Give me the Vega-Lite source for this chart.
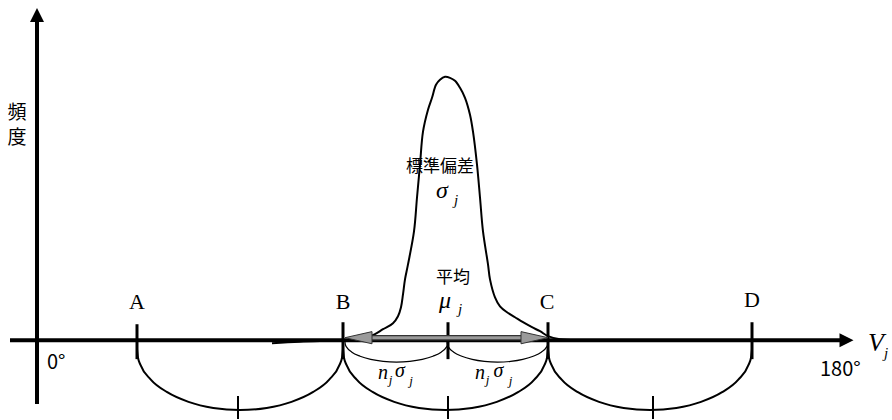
{
  "$schema": "https://vega.github.io/schema/vega-lite/v6.json",
  "width": 892,
  "height": 420,
  "padding": 0,
  "autosize": {"type": "fit", "contains": "padding"},
  "background": "white",
  "config": {"view": {"stroke": null}},
  "datasets": {
    "curves": [
      {"kind": "big", "id": "AB", "x": 137, "y": 70}, {"kind": "big", "id": "AB", "x": 137.9, "y": 62}, {"kind": "big", "id": "AB", "x": 140.5, "y": 54.2}, {"kind": "big", "id": "AB", "x": 150.8, "y": 39.5}, {"kind": "big", "id": "AB", "x": 167.2, "y": 26.9}, {"kind": "big", "id": "AB", "x": 188.5, "y": 17.2}, {"kind": "big", "id": "AB", "x": 213.3, "y": 11.1}, {"kind": "big", "id": "AB", "x": 240, "y": 9}, {"kind": "big", "id": "AB", "x": 266.7, "y": 11.1}, {"kind": "big", "id": "AB", "x": 291.5, "y": 17.2}, {"kind": "big", "id": "AB", "x": 312.8, "y": 26.9}, {"kind": "big", "id": "AB", "x": 329.2, "y": 39.5}, {"kind": "big", "id": "AB", "x": 339.5, "y": 54.2}, {"kind": "big", "id": "AB", "x": 342.1, "y": 62}, {"kind": "big", "id": "AB", "x": 343, "y": 70},
      {"kind": "big", "id": "BC", "x": 343, "y": 70}, {"kind": "big", "id": "BC", "x": 343.9, "y": 62}, {"kind": "big", "id": "BC", "x": 346.5, "y": 54.2}, {"kind": "big", "id": "BC", "x": 356.7, "y": 39.5}, {"kind": "big", "id": "BC", "x": 373, "y": 26.9}, {"kind": "big", "id": "BC", "x": 394.2, "y": 17.2}, {"kind": "big", "id": "BC", "x": 419, "y": 11.1}, {"kind": "big", "id": "BC", "x": 445.5, "y": 9}, {"kind": "big", "id": "BC", "x": 472, "y": 11.1}, {"kind": "big", "id": "BC", "x": 496.8, "y": 17.2}, {"kind": "big", "id": "BC", "x": 518, "y": 26.9}, {"kind": "big", "id": "BC", "x": 534.3, "y": 39.5}, {"kind": "big", "id": "BC", "x": 544.5, "y": 54.2}, {"kind": "big", "id": "BC", "x": 547.1, "y": 62}, {"kind": "big", "id": "BC", "x": 548, "y": 70},
      {"kind": "big", "id": "CD", "x": 548, "y": 70}, {"kind": "big", "id": "CD", "x": 548.9, "y": 62}, {"kind": "big", "id": "CD", "x": 551.5, "y": 54.2}, {"kind": "big", "id": "CD", "x": 561.7, "y": 39.5}, {"kind": "big", "id": "CD", "x": 577.9, "y": 26.9}, {"kind": "big", "id": "CD", "x": 599, "y": 17.2}, {"kind": "big", "id": "CD", "x": 623.6, "y": 11.1}, {"kind": "big", "id": "CD", "x": 650, "y": 9}, {"kind": "big", "id": "CD", "x": 676.4, "y": 11.1}, {"kind": "big", "id": "CD", "x": 701, "y": 17.2}, {"kind": "big", "id": "CD", "x": 722.1, "y": 26.9}, {"kind": "big", "id": "CD", "x": 738.3, "y": 39.5}, {"kind": "big", "id": "CD", "x": 748.5, "y": 54.2}, {"kind": "big", "id": "CD", "x": 751.1, "y": 62}, {"kind": "big", "id": "CD", "x": 752, "y": 70},
      {"kind": "small", "id": "Bm", "x": 345, "y": 77}, {"kind": "small", "id": "Bm", "x": 345.4, "y": 74.4}, {"kind": "small", "id": "Bm", "x": 346.8, "y": 71.8}, {"kind": "small", "id": "Bm", "x": 351.9, "y": 67}, {"kind": "small", "id": "Bm", "x": 360.1, "y": 62.9}, {"kind": "small", "id": "Bm", "x": 370.7, "y": 59.7}, {"kind": "small", "id": "Bm", "x": 383.2, "y": 57.7}, {"kind": "small", "id": "Bm", "x": 396.5, "y": 57}, {"kind": "small", "id": "Bm", "x": 409.8, "y": 57.7}, {"kind": "small", "id": "Bm", "x": 422.3, "y": 59.7}, {"kind": "small", "id": "Bm", "x": 432.9, "y": 62.9}, {"kind": "small", "id": "Bm", "x": 441.1, "y": 67}, {"kind": "small", "id": "Bm", "x": 446.2, "y": 71.8}, {"kind": "small", "id": "Bm", "x": 447.6, "y": 74.4}, {"kind": "small", "id": "Bm", "x": 448, "y": 77},
      {"kind": "small", "id": "mC", "x": 447, "y": 77}, {"kind": "small", "id": "mC", "x": 447.4, "y": 74.4}, {"kind": "small", "id": "mC", "x": 448.7, "y": 71.8}, {"kind": "small", "id": "mC", "x": 453.8, "y": 67}, {"kind": "small", "id": "mC", "x": 461.8, "y": 62.9}, {"kind": "small", "id": "mC", "x": 472.2, "y": 59.7}, {"kind": "small", "id": "mC", "x": 484.4, "y": 57.7}, {"kind": "small", "id": "mC", "x": 497.5, "y": 57}, {"kind": "small", "id": "mC", "x": 510.6, "y": 57.7}, {"kind": "small", "id": "mC", "x": 522.8, "y": 59.7}, {"kind": "small", "id": "mC", "x": 533.2, "y": 62.9}, {"kind": "small", "id": "mC", "x": 541.2, "y": 67}, {"kind": "small", "id": "mC", "x": 546.3, "y": 71.8}, {"kind": "small", "id": "mC", "x": 547.6, "y": 74.4}, {"kind": "small", "id": "mC", "x": 548, "y": 77}
    ],
    "bell": [
      {"i": 1, "x": 272, "y": 76}, {"i": 2, "x": 300, "y": 77.5}, {"i": 3, "x": 343, "y": 79}, {"i": 4, "x": 355, "y": 80}, {"i": 5, "x": 365, "y": 81}, {"i": 6, "x": 375, "y": 85}, {"i": 7, "x": 383, "y": 90}, {"i": 8, "x": 393, "y": 96}, {"i": 9, "x": 398, "y": 103}, {"i": 10, "x": 401, "y": 112}, {"i": 11, "x": 403, "y": 125}, {"i": 12, "x": 405, "y": 140}, {"i": 13, "x": 408, "y": 155}, {"i": 14, "x": 414, "y": 188}, {"i": 15, "x": 417, "y": 222}, {"i": 16, "x": 420, "y": 255}, {"i": 17, "x": 423, "y": 288}, {"i": 18, "x": 428, "y": 310}, {"i": 19, "x": 432, "y": 322}, {"i": 20, "x": 436, "y": 335}, {"i": 21, "x": 440, "y": 340}, {"i": 22, "x": 445, "y": 343}, {"i": 23, "x": 450, "y": 342}, {"i": 24, "x": 455, "y": 339}, {"i": 25, "x": 460, "y": 332}, {"i": 26, "x": 465, "y": 322}, {"i": 27, "x": 470, "y": 305}, {"i": 28, "x": 473, "y": 288}, {"i": 29, "x": 477, "y": 255}, {"i": 30, "x": 480, "y": 222}, {"i": 31, "x": 483, "y": 188}, {"i": 32, "x": 488, "y": 155}, {"i": 33, "x": 490, "y": 140}, {"i": 34, "x": 495, "y": 122}, {"i": 35, "x": 500, "y": 113}, {"i": 36, "x": 507, "y": 107}, {"i": 37, "x": 515, "y": 102}, {"i": 38, "x": 523, "y": 97}, {"i": 39, "x": 532, "y": 92}, {"i": 40, "x": 540, "y": 88}, {"i": 41, "x": 548, "y": 83}, {"i": 42, "x": 560, "y": 80}, {"i": 43, "x": 580, "y": 79}, {"i": 44, "x": 600, "y": 79}
    ],
    "segments": [
      {"kind": "axis", "x": 37, "y": 15, "x2": 37, "y2": 400},
      {"kind": "axis", "x": 10, "y": 79, "x2": 842, "y2": 79},
      {"kind": "tick", "x": 137, "y": 95, "x2": 137, "y2": 60},
      {"kind": "tick", "x": 343, "y": 97, "x2": 343, "y2": 60},
      {"kind": "tick", "x": 448, "y": 97, "x2": 448, "y2": 60},
      {"kind": "tick", "x": 548, "y": 97, "x2": 548, "y2": 60},
      {"kind": "tick", "x": 752, "y": 97, "x2": 752, "y2": 60},
      {"kind": "btick", "x": 238, "y": 23, "x2": 238, "y2": 0},
      {"kind": "btick", "x": 448, "y": 23, "x2": 448, "y2": 0},
      {"kind": "btick", "x": 653, "y": 23, "x2": 653, "y2": 0},
      {"kind": "shaft", "x": 372, "y": 81.5, "x2": 523, "y2": 81.5}
    ],
    "heads": [
      {"kind": "axisUp", "x": 37, "y": 405},
      {"kind": "axisRight", "x": 846.5, "y": 79},
      {"kind": "grayLeft", "x": 358.5, "y": 81.5},
      {"kind": "grayRight", "x": 534.5, "y": 81.5}
    ],
    "labels": [
      {"kind": "cjkAxis", "x": 17, "y": 300.3, "text": "頻"},
      {"kind": "cjkAxis", "x": 17, "y": 275.3, "text": "度"},
      {"kind": "cjk", "x": 440, "y": 247.5, "text": "標準偏差"},
      {"kind": "cjk", "x": 453, "y": 136, "text": "平均"},
      {"kind": "serif", "x": 137, "y": 110, "text": "A"},
      {"kind": "serif", "x": 343, "y": 110, "text": "B"},
      {"kind": "serif", "x": 547, "y": 110, "text": "C"},
      {"kind": "serif", "x": 752, "y": 112, "text": "D"},
      {"kind": "greek", "x": 442, "y": 222, "text": "σ"},
      {"kind": "greek", "x": 445, "y": 111, "text": "μ"},
      {"kind": "vlabel", "x": 876, "y": 68, "text": "V"},
      {"kind": "sub", "x": 456, "y": 215, "text": "j"},
      {"kind": "sub", "x": 460, "y": 105, "text": "j"},
      {"kind": "sub", "x": 886, "y": 61, "text": "j"},
      {"kind": "formula", "x": 383, "y": 40, "text": "n"},
      {"kind": "formula", "x": 400, "y": 42, "text": "σ"},
      {"kind": "formula", "x": 480, "y": 40, "text": "n"},
      {"kind": "formula", "x": 498.5, "y": 42, "text": "σ"},
      {"kind": "subSmall", "x": 390.5, "y": 35, "text": "j"},
      {"kind": "subSmall", "x": 411, "y": 34, "text": "j"},
      {"kind": "subSmall", "x": 487.5, "y": 35, "text": "j"},
      {"kind": "subSmall", "x": 510.5, "y": 34, "text": "j"},
      {"kind": "sans", "x": 47, "y": 50, "text": "0°"},
      {"kind": "sans", "x": 820, "y": 43, "text": "180°"}
    ]
  },
  "encoding": {
    "x": {"field": "x", "type": "quantitative", "scale": {"domain": [0, 892], "nice": false, "zero": false}, "axis": null},
    "y": {"field": "y", "type": "quantitative", "scale": {"domain": [0, 420], "nice": false, "zero": false}, "axis": null}
  },
  "layer": [
    {"data": {"name": "curves"}, "transform": [{"filter": "datum.kind == 'big'"}], "mark": {"type": "line", "color": "black", "strokeWidth": 2, "interpolate": "monotone"}, "encoding": {"detail": {"field": "id"}}},
    {"data": {"name": "curves"}, "transform": [{"filter": "datum.kind == 'small'"}], "mark": {"type": "line", "color": "black", "strokeWidth": 1.2, "interpolate": "monotone"}, "encoding": {"detail": {"field": "id"}}},
    {"data": {"name": "bell"}, "mark": {"type": "line", "color": "black", "strokeWidth": 2, "interpolate": "catmull-rom"}, "encoding": {"order": {"field": "i", "type": "quantitative"}}},
    {"data": {"name": "segments"}, "transform": [{"filter": "datum.kind == 'axis'"}], "mark": {"type": "rule", "color": "black", "strokeWidth": 4}, "encoding": {"x2": {"field": "x2"}, "y2": {"field": "y2"}}},
    {"data": {"name": "segments"}, "transform": [{"filter": "datum.kind == 'tick'"}], "mark": {"type": "rule", "color": "black", "strokeWidth": 3}, "encoding": {"x2": {"field": "x2"}, "y2": {"field": "y2"}}},
    {"data": {"name": "segments"}, "transform": [{"filter": "datum.kind == 'btick'"}], "mark": {"type": "rule", "color": "black", "strokeWidth": 2}, "encoding": {"x2": {"field": "x2"}, "y2": {"field": "y2"}}},
    {"data": {"name": "segments"}, "transform": [{"filter": "datum.kind == 'shaft'"}], "mark": {"type": "rule", "color": "#333333", "strokeWidth": 5.5}, "encoding": {"x2": {"field": "x2"}, "y2": {"field": "y2"}}},
    {"data": {"name": "segments"}, "transform": [{"filter": "datum.kind == 'shaft'"}], "mark": {"type": "rule", "color": "#9a9a9a", "strokeWidth": 3}, "encoding": {"x2": {"field": "x2"}, "y2": {"field": "y2"}}},
    {"data": {"name": "heads"}, "transform": [{"filter": "datum.kind == 'axisUp'"}], "mark": {"type": "point", "shape": "M0,-1L1,1L-1,1Z", "filled": true, "color": "black", "opacity": 1, "size": 196, "strokeWidth": 0}},
    {"data": {"name": "heads"}, "transform": [{"filter": "datum.kind == 'axisRight'"}], "mark": {"type": "point", "shape": "M1,0L-1,-1L-1,1Z", "filled": true, "color": "black", "opacity": 1, "size": 196, "strokeWidth": 0}},
    {"data": {"name": "heads"}, "transform": [{"filter": "datum.kind == 'grayLeft'"}], "mark": {"type": "point", "shape": "M-1,0L1,-0.45L1,0.45Z", "filled": true, "fill": "#9a9a9a", "stroke": "#333333", "strokeWidth": 1, "opacity": 1, "size": 729}},
    {"data": {"name": "heads"}, "transform": [{"filter": "datum.kind == 'grayRight'"}], "mark": {"type": "point", "shape": "M1,0L-1,-0.45L-1,0.45Z", "filled": true, "fill": "#9a9a9a", "stroke": "#333333", "strokeWidth": 1, "opacity": 1, "size": 729}},
    {"data": {"name": "labels"}, "transform": [{"filter": "datum.kind == 'cjkAxis'"}], "mark": {"type": "text", "font": "Noto Sans CJK JP", "fontSize": 19, "align": "center", "baseline": "alphabetic", "color": "black"}, "encoding": {"text": {"field": "text"}}},
    {"data": {"name": "labels"}, "transform": [{"filter": "datum.kind == 'cjk'"}], "mark": {"type": "text", "font": "Noto Sans CJK JP", "fontSize": 17, "align": "center", "baseline": "alphabetic", "color": "black"}, "encoding": {"text": {"field": "text"}}},
    {"data": {"name": "labels"}, "transform": [{"filter": "datum.kind == 'serif'"}], "mark": {"type": "text", "font": "Liberation Serif", "fontSize": 22, "align": "center", "baseline": "alphabetic", "color": "black"}, "encoding": {"text": {"field": "text"}}},
    {"data": {"name": "labels"}, "transform": [{"filter": "datum.kind == 'greek'"}], "mark": {"type": "text", "font": "Liberation Serif", "fontStyle": "italic", "fontSize": 24, "align": "center", "baseline": "alphabetic", "color": "black"}, "encoding": {"text": {"field": "text"}}},
    {"data": {"name": "labels"}, "transform": [{"filter": "datum.kind == 'vlabel'"}], "mark": {"type": "text", "font": "Liberation Serif", "fontStyle": "italic", "fontSize": 26, "align": "center", "baseline": "alphabetic", "color": "black"}, "encoding": {"text": {"field": "text"}}},
    {"data": {"name": "labels"}, "transform": [{"filter": "datum.kind == 'sub'"}], "mark": {"type": "text", "font": "Liberation Serif", "fontStyle": "italic", "fontSize": 15, "align": "center", "baseline": "alphabetic", "color": "black"}, "encoding": {"text": {"field": "text"}}},
    {"data": {"name": "labels"}, "transform": [{"filter": "datum.kind == 'formula'"}], "mark": {"type": "text", "font": "Liberation Serif", "fontStyle": "italic", "fontSize": 20, "align": "center", "baseline": "alphabetic", "color": "black"}, "encoding": {"text": {"field": "text"}}},
    {"data": {"name": "labels"}, "transform": [{"filter": "datum.kind == 'subSmall'"}], "mark": {"type": "text", "font": "Liberation Serif", "fontStyle": "italic", "fontSize": 13, "align": "center", "baseline": "alphabetic", "color": "black"}, "encoding": {"text": {"field": "text"}}},
    {"data": {"name": "labels"}, "transform": [{"filter": "datum.kind == 'sans'"}], "mark": {"type": "text", "font": "Noto Sans CJK JP", "fontSize": 20, "align": "left", "baseline": "alphabetic", "color": "black"}, "encoding": {"text": {"field": "text"}}}
  ]
}
